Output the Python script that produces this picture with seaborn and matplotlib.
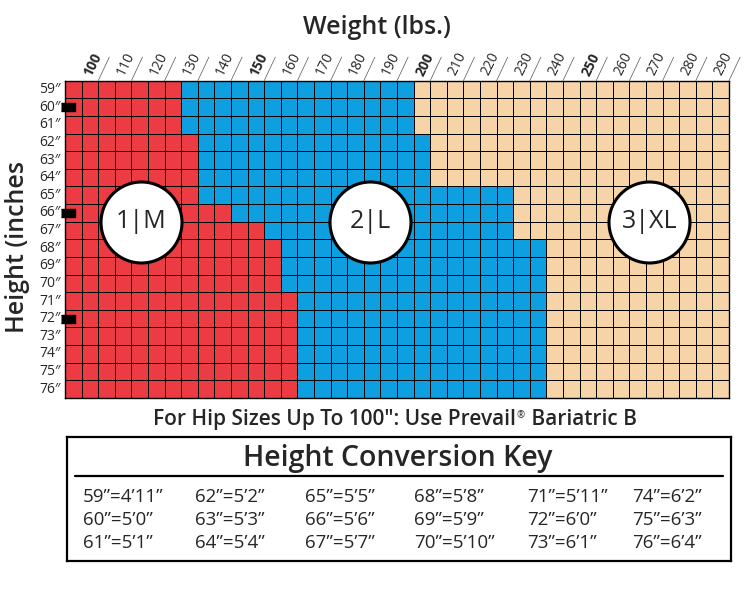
import numpy as np
import pandas as pd
import matplotlib
matplotlib.use("Agg")
import matplotlib.pyplot as plt
from matplotlib.colors import ListedColormap
from matplotlib.transforms import IdentityTransform
import seaborn as sns

# grid: heights (rows) and 5 lb weight steps (columns, lower edge of each cell)
heights = [59, 60, 61, 62, 63, 64, 65, 66, 67, 68, 69, 70, 71, 72, 73, 74, 75, 76]
weight_steps = list(range(90, 290, 5))

# upper weight limit of size 1|M and 2|L for each height (anything above is 3|XL)
m_max = [125, 125, 125, 130, 130, 130, 130, 140, 150, 155, 155, 155, 160, 160, 160, 160, 160, 160]
l_max = [195, 195, 195, 200, 200, 200, 225, 225, 225, 235, 235, 235, 235, 235, 235, 235, 235, 235]

weight_labels = [100, 110, 120, 130, 140, 150, 160, 170, 180, 190, 200,
                 210, 220, 230, 240, 250, 260, 270, 280, 290]
bold_weights = [100, 150, 200, 250]
marked_heights = [60, 66, 72]

size_names = ["1|M", "2|L", "3|XL"]
size_weight = [113, 182, 266]   # where the size circles sit
size_height = [66.5, 66.5, 66.5]

key_labels = ["59\u201d=4\u201911\u201d", "60\u201d=5\u20190\u201d", "61\u201d=5\u20191\u201d",
              "62\u201d=5\u20192\u201d", "63\u201d=5\u20193\u201d", "64\u201d=5\u20194\u201d",
              "65\u201d=5\u20195\u201d", "66\u201d=5\u20196\u201d", "67\u201d=5\u20197\u201d",
              "68\u201d=5\u20198\u201d", "69\u201d=5\u20199\u201d", "70\u201d=5\u201910\u201d",
              "71\u201d=5\u201911\u201d", "72\u201d=6\u20190\u201d", "73\u201d=6\u20191\u201d",
              "74\u201d=6\u20192\u201d", "75\u201d=6\u20193\u201d", "76\u201d=6\u20194\u201d"]

RED = "#ec3b42"
BLUE = "#0d9fdf"
BEIGE = "#f6d4a7"

sns.set_style("white")
plt.rcParams["font.family"] = ["Open Sans", "DejaVu Sans"]

W, H = 750, 611
fig = plt.figure(figsize=(W / 100, H / 100), dpi=100)


def fx(x):
    return x / W


def fy(y):
    return 1 - y / H


# build size category matrix
cells = []
for h, mm, lm in zip(heights, m_max, l_max):
    row = []
    for w in weight_steps:
        if w + 5 <= mm:
            row.append(0)
        elif w + 5 <= lm:
            row.append(1)
        else:
            row.append(2)
    cells.append(row)
df = pd.DataFrame(cells, index=heights, columns=weight_steps)

ax = fig.add_axes([fx(65), fy(398), fx(729) - fx(65), fy(80.7) - fy(398)])
sns.heatmap(df, cmap=ListedColormap([RED, BLUE, BEIGE]), vmin=-0.5, vmax=2.5,
            cbar=False, linewidths=0.6, linecolor="black",
            xticklabels=False, yticklabels=[f"{h}\u2033" for h in heights], ax=ax)
ax.tick_params(axis="y", length=0, pad=3, labelsize=10, rotation=0)
for s in ax.spines.values():
    s.set_visible(True)
    s.set_linewidth(1.0)
    s.set_color("black")

# top weight labels with slanted underlines
for w in weight_labels:
    x = (w - 90) / 5
    ax.annotate("", xy=(x, 0), xytext=(8, 17), textcoords="offset points",
                arrowprops=dict(arrowstyle="-", lw=0.5, color="#555555",
                                shrinkA=0, shrinkB=0), annotation_clip=False)
    ax.annotate(str(w), xy=(x, 0), xytext=(-3, 2), textcoords="offset points",
                rotation=64, rotation_mode="anchor", ha="left", va="bottom",
                fontsize=10, fontweight="bold" if w in bold_weights else "normal",
                annotation_clip=False)

# little black markers at the left edge
ys = [heights.index(h) + 0.5 for h in marked_heights]
ax.scatter([0.2] * len(ys), ys, marker=[(-1, -0.55), (1, -0.55), (1, 0.55), (-1, 0.55)],
           s=90, color="black", clip_on=False, zorder=5)

# size circles
cx = [(w - 90) / 5 for w in size_weight]
cy = [h - heights[0] + 0.5 for h in size_height]
ax.scatter(cx, cy, s=3400, facecolor="white", edgecolor="black", linewidth=2.2, zorder=4)
for x, y, name in zip(cx, cy, size_names):
    ax.text(x, y, name, ha="center", va="center", fontsize=18, zorder=6)

fig.text(fx(377), fy(28), "Weight (lbs.)", ha="center", va="center",
         fontsize=18, fontweight="semibold")
fig.text(fx(18), fy(247), "Height (inches", ha="center", va="center", rotation=90,
         fontsize=18, fontweight="semibold")

# hip size note with small superscript registered sign
renderer = fig.canvas.get_renderer()
t1 = fig.text(fx(153), fy(425), "For Hip Sizes Up To 100\u2033: Use Prevail", ha="left",
              va="baseline", fontsize=15, fontweight="semibold")
bb = t1.get_window_extent(renderer)
t2 = fig.text(bb.x1 + 1, H - 418, "\u00ae", transform=IdentityTransform(), ha="left",
              va="baseline", fontsize=7)
bb2 = t2.get_window_extent(renderer)
fig.text(bb2.x1 + 1, H - 425, " Bariatric B", transform=IdentityTransform(), ha="left",
         va="baseline", fontsize=15, fontweight="semibold")

# height conversion key box
kax = fig.add_axes([fx(67), fy(561), fx(731) - fx(67), fy(436.7) - fy(561)])
kax.set_xticks([])
kax.set_yticks([])
kax.set_xlim(0, 1)
kax.set_ylim(0, 1)
for s in kax.spines.values():
    s.set_visible(True)
    s.set_linewidth(1.6)
    s.set_color("black")
kax.plot([0.012, 0.988], [0.683, 0.683], color="black", lw=1.6)
fig.text(fx(398), fy(466), "Height Conversion Key", ha="center", va="baseline",
         fontsize=20.5, fontweight="semibold")

col_x = [82.7, 195, 305, 414, 527, 631.7]
row_y = [502, 525, 548]
for i, lab in enumerate(key_labels):
    fig.text(fx(col_x[i // 3]), fy(row_y[i % 3]), lab, ha="left", va="baseline", fontsize=13.5)

fig.savefig("out.png", dpi=100)
